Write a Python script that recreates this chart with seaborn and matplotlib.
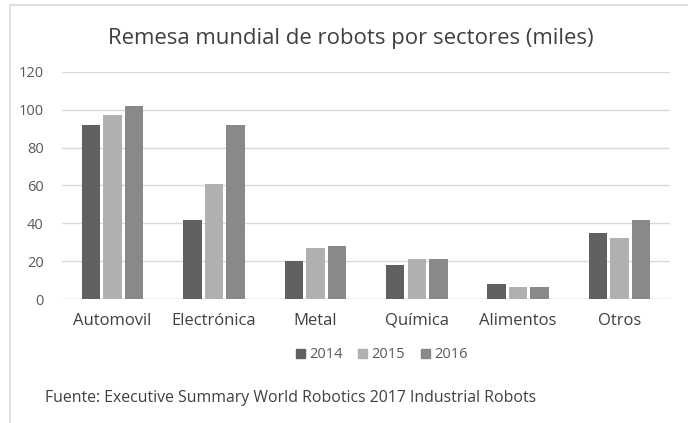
import pandas as pd
import seaborn as sns
import matplotlib.pyplot as plt
from matplotlib.patches import Rectangle

# Datos (miles de robots)
sectores = ['Automovil', 'Electrónica', 'Metal', 'Química', 'Alimentos', 'Otros']
anios = ['2014', '2015', '2016']
v2014 = [92, 42, 20, 18, 8, 35]
v2015 = [97, 61, 27, 21, 6.5, 32]
v2016 = [102, 92, 28, 21, 6.5, 42]
colores = ['#606060', '#b0b0b0', '#898989']

df = pd.DataFrame({
    'sector': sectores * 3,
    'anio': [a for a in anios for _ in sectores],
    'valor': v2014 + v2015 + v2016,
})

sns.set_style('white')
plt.rcParams['font.family'] = ['Open Sans', 'DejaVu Sans']

fig = plt.figure(figsize=(6.88, 4.23), dpi=100)
ax = fig.add_axes([0.090, 0.293, 0.884, 0.537])

sns.barplot(data=df, x='sector', y='valor', hue='anio', hue_order=anios,
            palette=colores, width=0.64, gap=0.15, saturation=1,
            edgecolor='none', ax=ax, legend=False)

ax.set_ylim(0, 120)
ax.set_yticks(range(0, 121, 20))
ax.set_xlim(-0.5, len(sectores) - 0.5)
ax.grid(axis='y', color='#d9d9d9', linewidth=1)
ax.set_axisbelow(True)
for s in ax.spines.values():
    s.set_visible(False)
ax.axhline(0, color='#d9d9d9', linewidth=1, zorder=0)
ax.tick_params(axis='y', colors='#595959', labelsize=10.5, length=0, pad=13)
ax.tick_params(axis='x', colors='#404040', labelsize=12, length=0, pad=10)
ax.set_xlabel('')
ax.set_ylabel('')

# Leyenda
handles = [Rectangle((0, 0), 1, 1, color=c) for c in colores]
fig.legend(handles, anios, loc='center', bbox_to_anchor=(0.555, 0.161), ncol=3,
           frameon=False, handlelength=0.6, handleheight=0.6, handletextpad=0.3,
           columnspacing=1.1, fontsize=10.5, labelcolor='#595959')

fig.text(0.51, 0.91, 'Remesa mundial de robots por sectores (miles)',
         ha='center', va='center', fontsize=15.9, color='#404040')
fig.text(0.065, 0.058, 'Fuente: Executive Summary World Robotics 2017 Industrial Robots',
         ha='left', va='center', fontsize=11.4, color='#404040')

# Marco
fig.patches.append(Rectangle((0.015, -0.01), 1.2, 0.998, transform=fig.transFigure,
                             fill=False, edgecolor='#d9d9d9', linewidth=1.2))

fig.savefig('out.png', dpi=100)
